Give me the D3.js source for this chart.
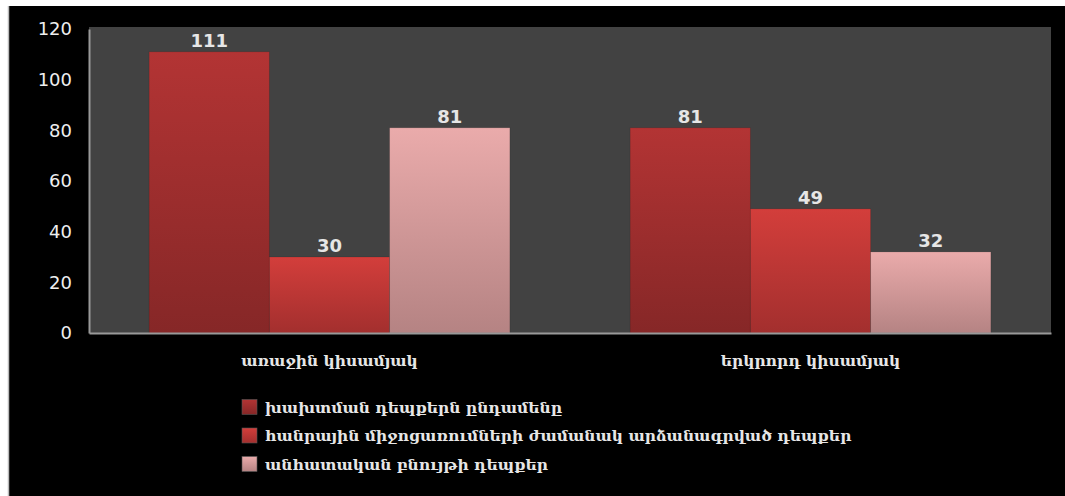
<!DOCTYPE html>
<html><head><meta charset="utf-8">
<script src="https://cdn.jsdelivr.net/npm/d3@7/dist/d3.min.js"></script>
<style>html,body{margin:0;padding:0;background:#fff;overflow:hidden}</style>
</head><body><svg id="c" width="1065" height="496"></svg>
<script>
const categories = ["առաջին կիսամյակ", "երկրորդ կիսամյակ"];
const seriesNames = ["խախտման դեպքերն ընդամենը", "հանրային միջոցառումների ժամանակ արձանագրված դեպքեր", "անհատական բնույթի դեպքեր"];
const totalCases = [111, 81];
const publicEventCases = [30, 49];
const individualCases = [81, 32];
const yTicks = [0, 20, 40, 60, 80, 100, 120];
const series = [totalCases, publicEventCases, individualCases];
const grads = [["#b33434","#862727"],["#d33e3b","#a32f2e"],["#eaabab","#b58383"]];

const svg = d3.select("#c");
svg.append("rect").attr("x",8).attr("y",6).attr("width",1057).attr("height",490).attr("fill","#000");
svg.append("line").attr("x1",8.5).attr("x2",8.5).attr("y1",6).attr("y2",496).attr("stroke","#bbb").attr("stroke-width",1.5);

const defs = svg.append("defs");
grads.forEach((g,i)=>{
  const lg = defs.append("linearGradient").attr("id","g"+i).attr("x1",0).attr("x2",0).attr("y1",0).attr("y2",1);
  lg.append("stop").attr("offset","0%").attr("stop-color",g[0]);
  lg.append("stop").attr("offset","100%").attr("stop-color",g[1]);
});

const L=89, R=1051, T=29, B=333;
const y = d3.scaleLinear().domain([0,120]).range([B,T]);
const x0 = d3.scaleBand().domain(categories).range([L,R]).paddingInner(0.25).paddingOuter(0.125);
const x1 = d3.scaleBand().domain([0,1,2]).range([0,x0.bandwidth()]);

svg.append("rect").attr("x",L).attr("y",27).attr("width",R-L).attr("height",B-27).attr("fill","#424242");

categories.forEach((c,ci)=>{
  series.forEach((s,si)=>{
    const v = s[ci];
    const bx = x0(c)+x1(si);
    svg.append("rect").attr("x",bx).attr("y",y(v)).attr("width",x1.bandwidth()).attr("height",B-y(v))
      .attr("fill","url(#g"+si+")").attr("stroke","rgba(0,0,0,0.15)").attr("stroke-width",0.8);
    svg.append("text").attr("x",bx+x1.bandwidth()/2).attr("y",y(v)-5).attr("text-anchor","middle")
      .attr("font-family","DejaVu Sans").attr("font-weight","bold").attr("font-size",18).attr("fill","#e6e6e6").text(v);
  });
});

const ya = svg.append("g").attr("transform",`translate(${L},0)`).call(d3.axisLeft(y).tickValues(yTicks).tickSize(0).tickPadding(17));
ya.select(".domain").attr("stroke","#999").attr("stroke-width",2);
ya.selectAll("text").attr("font-family","DejaVu Sans").attr("font-size",18).attr("fill","#eee");

const xa = svg.append("g").attr("transform",`translate(0,${B})`).call(d3.axisBottom(x0).tickSize(0).tickPadding(22));
xa.select(".domain").attr("stroke","#999").attr("stroke-width",2);
xa.selectAll("text").attr("font-family","DejaVu Serif").attr("font-weight","bold").attr("font-size",15.5).attr("fill","#e6e6e6");

const leg = svg.append("g");
seriesNames.forEach((n,i)=>{
  const yy = 407 + i*28.5;
  leg.append("rect").attr("x",242).attr("y",yy-7.5).attr("width",15).attr("height",15).attr("fill","url(#g"+i+")").attr("stroke","#555").attr("stroke-width",0.6);
  leg.append("text").attr("x",265).attr("y",yy+5.5).attr("font-family","DejaVu Serif").attr("font-weight","bold").attr("font-size",15.5).attr("fill","#e6e6e6").text(n);
});
</script></body></html>
